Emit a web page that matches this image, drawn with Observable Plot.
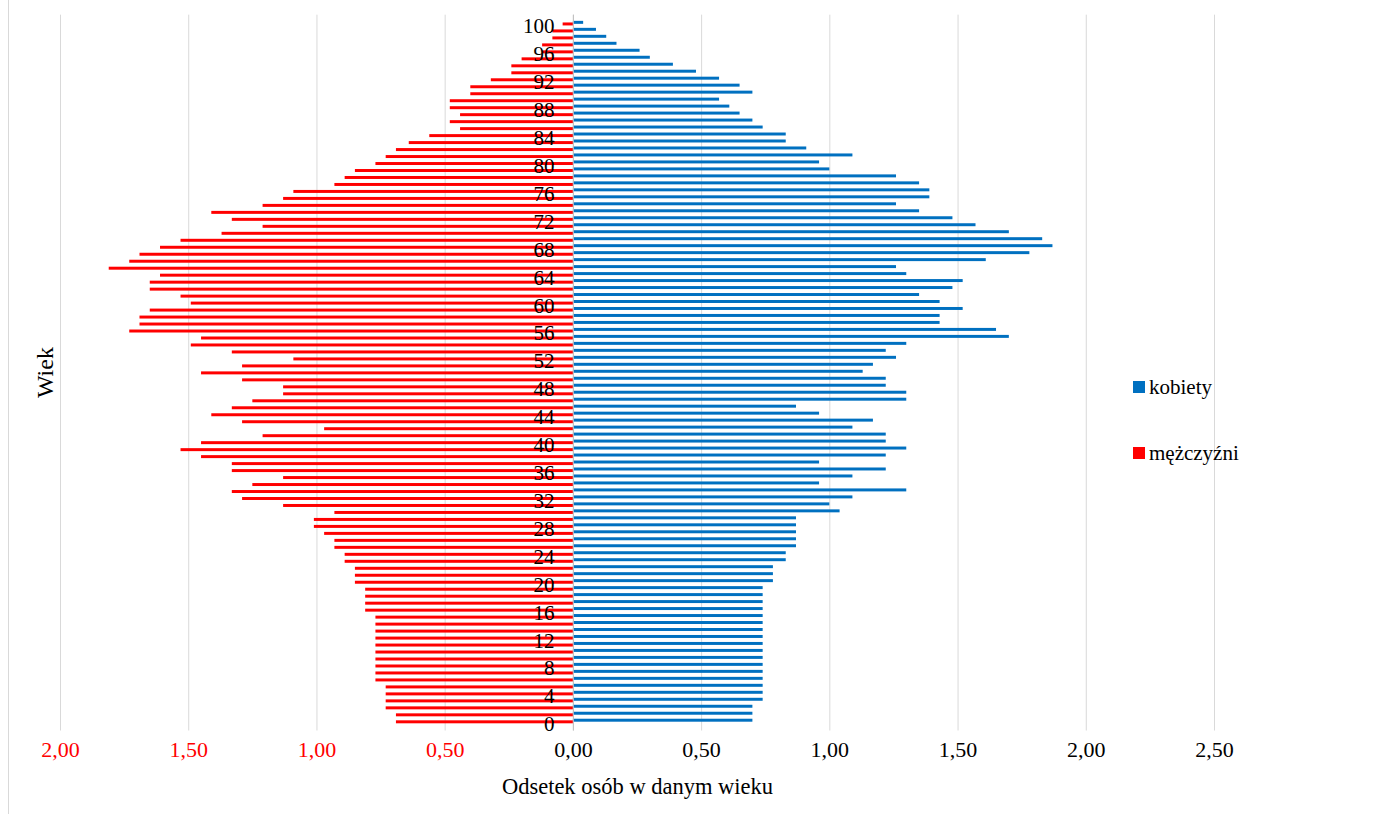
<!DOCTYPE html>
<html><head><meta charset="utf-8">
<script src="https://cdn.jsdelivr.net/npm/d3@7"></script>
<script src="https://cdn.jsdelivr.net/npm/@observablehq/plot@0.6"></script>
<style>
body{margin:0;background:#fff;}
#wrap{position:relative;width:1394px;height:814px;overflow:hidden;font-family:"Liberation Serif","Times New Roman",serif;}
#frame{position:absolute;left:8px;top:-2px;width:1400px;height:830px;border:1px solid #d9d9d9;pointer-events:none;box-sizing:border-box}
.legend{position:absolute;left:1133px;font-size:21px;color:#000;display:flex;align-items:center;height:22px;white-space:nowrap}
.sw{width:12px;height:12px;margin-right:4px;display:inline-block}
</style></head><body><div id="wrap"><div id="frame"></div></div>
<script>
// Age categories 0..100
const ages = d3.range(0, 101);
// Odsetek kobiet (women), ages 0..100
const kobiety = [
  0.70,0.70,0.70,0.74,0.74,0.74,0.74,0.74,0.74,0.74,
  0.74,0.74,0.74,0.74,0.74,0.74,0.74,0.74,0.74,0.74,
  0.78,0.78,0.78,0.83,0.83,0.87,0.87,0.87,0.87,0.87,
  1.04,1.00,1.09,1.30,0.96,1.09,1.22,0.96,1.22,1.30,
  1.22,1.22,1.09,1.17,0.96,0.87,1.30,1.30,1.22,1.22,
  1.13,1.17,1.26,1.22,1.30,1.70,1.65,1.43,1.43,1.52,
  1.43,1.35,1.48,1.52,1.30,1.26,1.61,1.78,1.87,1.83,
  1.70,1.57,1.48,1.35,1.26,1.39,1.39,1.35,1.26,1.00,
  0.96,1.09,0.91,0.83,0.83,0.74,0.70,0.65,0.61,0.57,
  0.70,0.65,0.57,0.48,0.39,0.30,0.26,0.17,0.13,0.09,
  0.04
];
// Odsetek mężczyzn (men), ages 0..100
const mezczyzni = [
  0.69,0.69,0.73,0.73,0.73,0.73,0.77,0.77,0.77,0.77,
  0.77,0.77,0.77,0.77,0.77,0.77,0.81,0.81,0.81,0.81,
  0.85,0.85,0.85,0.89,0.89,0.93,0.93,0.97,1.01,1.01,
  0.93,1.13,1.29,1.33,1.25,1.13,1.33,1.33,1.45,1.53,
  1.45,1.21,0.97,1.29,1.41,1.33,1.25,1.13,1.13,1.29,
  1.45,1.29,1.09,1.33,1.49,1.45,1.73,1.69,1.69,1.65,
  1.49,1.53,1.65,1.65,1.61,1.81,1.73,1.69,1.61,1.53,
  1.37,1.21,1.33,1.41,1.21,1.13,1.09,0.93,0.89,0.85,
  0.77,0.73,0.69,0.64,0.56,0.44,0.48,0.44,0.48,0.48,
  0.40,0.40,0.32,0.24,0.24,0.20,0.12,0.12,0.08,0.08,
  0.04
];
const yTickAges = [0,4,8,12,16,20,24,28,32,36,40,44,48,52,56,60,64,68,72,76,80,84,88,92,96,100];
const xTicks = [-2,-1.5,-1,-0.5,0,0.5,1,1.5,2,2.5];
const xTickLabels = ["2,00","1,50","1,00","0,50","0,00","0,50","1,00","1,50","2,00","2,50"];
const seriesNames = ["kobiety","mężczyźni"];
const seriesColors = ["#0070c0","#ff0000"];
const xTitle = "Odsetek osób w danym wieku";
const yTitle = "Wiek";

const rows = ages.map((a, i) => ({age: a, k: kobiety[i], m: mezczyzni[i]}));
const tickRows = xTicks.map((v, i) => ({v, label: xTickLabels[i]}));
const font = '"Liberation Serif","Times New Roman",serif';

const chart = Plot.plot({
  width: 1394, height: 814,
  marginLeft: 60, marginRight: 180, marginTop: 19.66, marginBottom: 89.5,
  x: {domain: [-2, 2.5], axis: null},
  y: {type: "band", domain: ages.slice().reverse(), padding: 0, axis: null},
  style: {fontFamily: font, background: "white", overflow: "visible"},
  marks: [
    Plot.ruleX(xTicks, {x: d => d, stroke: "#d9d9d9", strokeWidth: 1, insetTop: -5, insetBottom: -6}),
    Plot.barX(rows, {x1: 0, x2: d => -d.m, y: "age", fill: seriesColors[1], insetTop: 2.8, insetBottom: 1.2}),
    Plot.barX(rows, {x1: 0, x2: "k", y: "age", fill: seriesColors[0], insetTop: 1.2, insetBottom: 2.8}),
    Plot.ruleX([0], {stroke: "#bfbfbf", strokeWidth: 1, insetTop: -5, insetBottom: -6}),
    Plot.text(yTickAges, {x: 0, y: d => d, text: d => String(d), textAnchor: "end", dx: -19, dy: 3, fontSize: 21, fill: "#000"}),
    Plot.text(tickRows.filter(d => d.v < 0), {x: "v", text: "label", frameAnchor: "bottom", lineAnchor: "middle", dy: 24.5, fontSize: 22, fill: "#ff0000"}),
    Plot.text(tickRows.filter(d => d.v >= 0), {x: "v", text: "label", frameAnchor: "bottom", lineAnchor: "middle", dy: 24.5, fontSize: 22, fill: "#000"}),
    Plot.text([xTitle], {frameAnchor: "bottom", lineAnchor: "middle", dy: 61.5, fontSize: 22.5, fill: "#000"}),
    Plot.text([yTitle], {frameAnchor: "left", textAnchor: "middle", lineAnchor: "middle", dx: -15.5, rotate: -90, fontSize: 24, fill: "#000"})
  ]
});
chart.style.position = "absolute";
chart.style.left = "0px";
chart.style.top = "0px";
const wrap = document.getElementById("wrap");
wrap.insertBefore(chart, wrap.firstChild);

const legendTops = [376, 442];
seriesNames.forEach((name, i) => {
  const el = document.createElement("div");
  el.className = "legend";
  el.style.top = legendTops[i] + "px";
  const sw = document.createElement("span");
  sw.className = "sw";
  sw.style.background = seriesColors[i];
  el.appendChild(sw);
  el.appendChild(document.createTextNode(name));
  wrap.appendChild(el);
});
</script>
</body></html>
